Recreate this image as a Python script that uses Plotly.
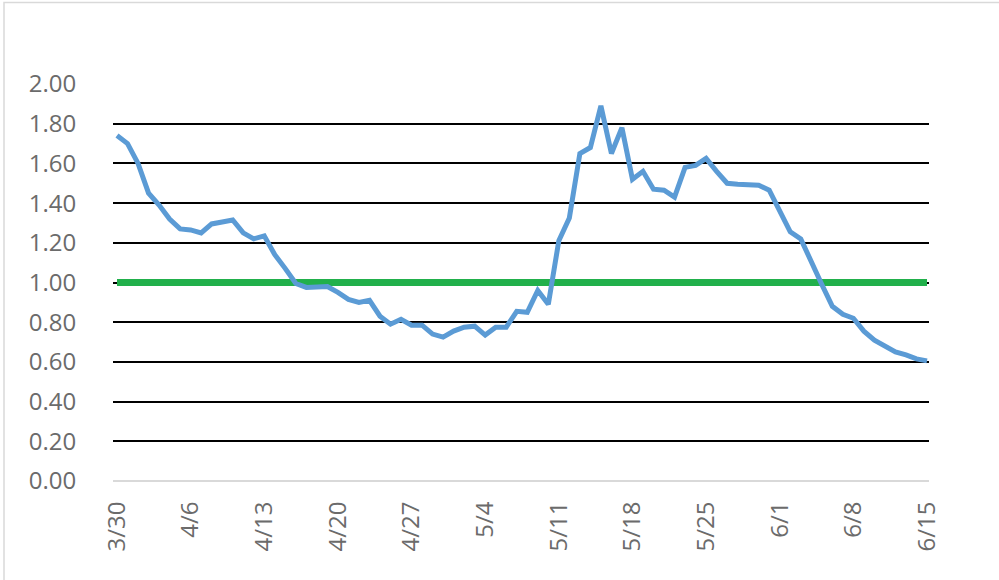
import pandas as pd
import plotly.graph_objects as go

# ---- data ----
dates = pd.date_range("2020-03-30", "2020-06-15", freq="D")
rt_values = [
    1.74, 1.70, 1.60, 1.45, 1.39, 1.32, 1.27, 1.265, 1.25, 1.295,
    1.305, 1.315, 1.25, 1.22, 1.235, 1.14, 1.07, 0.995, 0.975, 0.975,
    0.98, 0.95, 0.915, 0.90, 0.91, 0.83, 0.79, 0.815, 0.785, 0.785,
    0.74, 0.725, 0.755, 0.775, 0.78, 0.735, 0.775, 0.775, 0.855, 0.85,
    0.96, 0.89, 1.21, 1.325, 1.65, 1.68, 1.89, 1.65, 1.78, 1.52,
    1.56, 1.47, 1.465, 1.43, 1.58, 1.59, 1.625, 1.56, 1.50, 1.495,
    1.495, 1.49, 1.465, 1.36, 1.255, 1.22, 1.10, 0.99, 0.88, 0.84,
    0.82, 0.755, 0.71, 0.68, 0.65, 0.635, 0.615, 0.605,
]
threshold = [1.0] * len(dates)
y_ticks = [0.0, 0.2, 0.4, 0.6, 0.8, 1.0, 1.2, 1.4, 1.6, 1.8, 2.0]
x_tick_labels = ["3/30", "4/6", "4/13", "4/20", "4/27", "5/4",
                 "5/11", "5/18", "5/25", "6/1", "6/8", "6/15"]
x_tick_dates = pd.date_range("2020-03-30", "2020-06-15", freq="7D")

# ---- figure ----
W, H = 999, 580
L, R, T, B = 113, 70, 84, 99
FONT = "Open Sans"
GRAY = "#6b6b6b"

fig = go.Figure()
fig.add_trace(go.Scatter(
    x=dates, y=threshold, mode="lines",
    line=dict(color="#21B04B", width=7),
    hoverinfo="skip", showlegend=False,
))
fig.add_trace(go.Scatter(
    x=dates, y=rt_values, mode="lines",
    line=dict(color="#5B9BD5", width=5),
    showlegend=False,
))

x0 = dates[0] - pd.Timedelta(hours=0.38 * 24)
x1 = dates[-1] + pd.Timedelta(hours=0.19 * 24)

fig.update_xaxes(
    range=[x0, x1],
    tickvals=x_tick_dates, ticktext=x_tick_labels,
    tickangle=-90, ticks="outside", ticklen=10,
    tickcolor="rgba(0,0,0,0)", showgrid=False, zeroline=False,
    showline=False,
    tickfont=dict(family=FONT, size=24, color=GRAY),
)
fig.update_yaxes(
    range=[0, 2.0],
    tickvals=y_ticks, ticktext=[f"{v:.2f}" for v in y_ticks],
    showgrid=True, gridcolor="#000000", gridwidth=2,
    zeroline=True, zerolinecolor="#D9D9D9", zerolinewidth=2,
    ticks="outside", ticklen=31, tickcolor="rgba(0,0,0,0)",
    showline=False,
    tickfont=dict(family=FONT, size=24, color=GRAY),
)

pw = W - L - R
ph = H - T - B
fig.add_shape(
    type="rect", xref="paper", yref="paper",
    x0=(4 - L) / pw, x1=(W + 20 - L) / pw,
    y0=(H - T - (H + 20)) / ph, y1=(H - B - 2.5) / ph,
    line=dict(color="#D9D9D9", width=1.5), fillcolor="rgba(0,0,0,0)",
    layer="below",
)

fig.update_layout(
    width=W, height=H,
    margin=dict(l=L, r=R, t=T, b=B, pad=0, autoexpand=False),
    paper_bgcolor="white", plot_bgcolor="white",
    font=dict(family=FONT, color=GRAY),
)

fig.write_html("out.html", config={"displayModeBar": False},
               post_script="document.body.style.margin='0';")
